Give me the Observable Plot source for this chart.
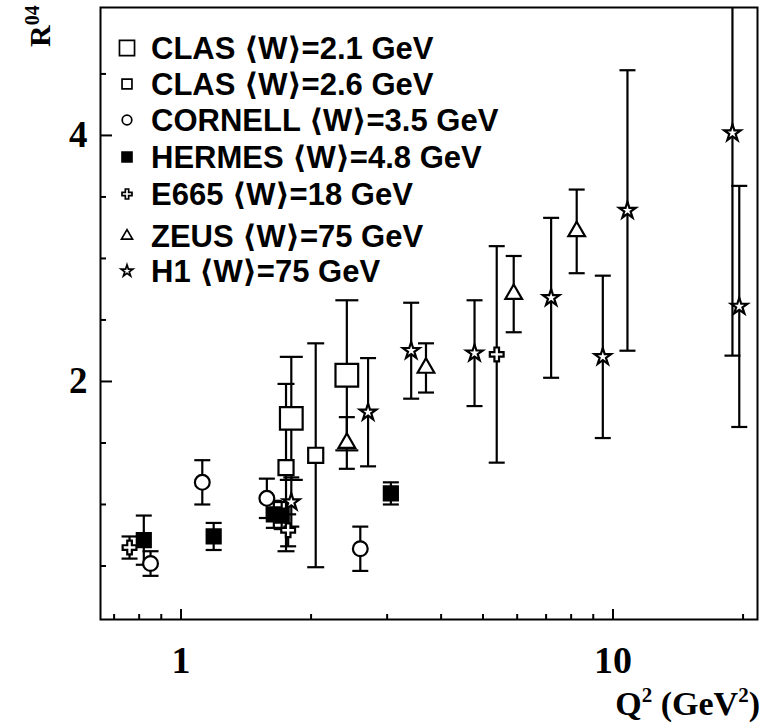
<!DOCTYPE html>
<html>
<head>
<meta charset="utf-8">
<script src="https://cdn.jsdelivr.net/npm/d3@7"></script>
<script src="https://cdn.jsdelivr.net/npm/@observablehq/plot@0.6"></script>
<style>
  html, body { margin: 0; padding: 0; background: #fff; }
  #chart svg { display: block; }
</style>
</head>
<body>
<div id="chart"></div>
<script>
// R04 spin-density matrix element versus Q^2 for several experiments.

// CLAS <W>=2.1 GeV
const clas21Q2 = [1.80, 2.42];
const clas21R = [1.70, 2.05];
const clas21Err = [0.50, 0.61];

// CLAS <W>=2.6 GeV
const clas26Q2 = [1.75, 2.05];
const clas26R = [1.30, 1.40];
const clas26Err = [0.68, 0.91];

// CORNELL <W>=3.5 GeV
const cornellQ2 = [0.85, 1.12, 1.58, 2.60];
const cornellR = [0.52, 1.18, 1.05, 0.64];
const cornellErr = [0.10, 0.18, 0.16, 0.18];

// HERMES <W>=4.8 GeV
const hermesQ2 = [0.82, 1.19, 1.64, 1.71, 3.06];
const hermesR = [0.71, 0.74, 0.92, 0.91, 1.09];
const hermesErr = [0.20, 0.11, 0.11, 0.11, 0.09];

// E665 <W>=18 GeV
const e665Q2 = [0.76, 1.77, 5.38];
const e665R = [0.65, 0.79, 2.22];
const e665Err = [0.09, 0.13, 0.88];

// ZEUS <W>=75 GeV
const zeusQ2 = [2.42, 3.69, 5.89, 8.24];
const zeusR = [1.50, 2.11, 2.71, 3.22];
const zeusErr = [0.21, 0.20, 0.31, 0.34];

// H1 <W>=75 GeV
const h1Q2 = [1.80, 2.71, 3.41, 4.78, 7.19, 9.47, 10.8, 18.9, 19.6];
const h1R = [1.02, 1.75, 2.25, 2.23, 2.68, 2.20, 3.39, 4.02, 2.61];
const h1Err = [0.20, 0.44, 0.39, 0.43, 0.65, 0.66, 1.14, 1.81, 0.98];

// Legend labels
const legendLabels = [
  "CLAS \u27E8W\u27E9=2.1 GeV",
  "CLAS \u27E8W\u27E9=2.6 GeV",
  "CORNELL \u27E8W\u27E9=3.5 GeV",
  "HERMES \u27E8W\u27E9=4.8 GeV",
  "E665 \u27E8W\u27E9=18 GeV",
  "ZEUS \u27E8W\u27E9=75 GeV",
  "H1 \u27E8W\u27E9=75 GeV"
];

// Axis ticks
const xMajorTicks = [1, 10];
const xMinorTicks = [0.7, 0.8, 0.9, 2, 3, 4, 5, 6, 7, 8, 9, 20];
const yMajorTicks = [2, 4];
const yMinorTicks = [0.5, 1, 1.5, 2.5, 3, 3.5, 4.5];

// Layout
const W = 767, H = 727;
const mL = 100, mR = 10, mT = 7, mB = 108;
const frameW = W - mL - mR, frameH = H - mT - mB;

// Horizontal bar used as an error-bar cap
const capSymbol = (w) => ({ draw(ctx) { ctx.moveTo(-w / 2, 0); ctx.lineTo(w / 2, 0); } });

const series = [
  { label: legendLabels[0], q2: clas21Q2, r: clas21R, err: clas21Err, symbol: "square", fill: "white", size: 12.8, cap: 23, lr: 8.5 },
  { label: legendLabels[1], q2: clas26Q2, r: clas26R, err: clas26Err, symbol: "square", fill: "white", size: 8.5, cap: 17, lr: 5.6 },
  { label: legendLabels[2], q2: cornellQ2, r: cornellR, err: cornellErr, symbol: "circle", fill: "white", size: 7.4, cap: 16, lr: 4.8 },
  { label: legendLabels[3], q2: hermesQ2, r: hermesR, err: hermesErr, symbol: "square", fill: "black", size: 7.9, cap: 16, lr: 5.6 },
  { label: legendLabels[4], q2: e665Q2, r: e665R, err: e665Err, symbol: "cross", fill: "white", size: 5.8, cap: 16, lr: 4.2 },
  { label: legendLabels[5], q2: zeusQ2, r: zeusR, err: zeusErr, symbol: "triangle", fill: "white", size: 6.2, cap: 16, lr: 4.1 },
  { label: legendLabels[6], q2: h1Q2, r: h1R, err: h1Err, symbol: "star", fill: "white", size: 5.2, cap: 16, lr: 3.7 }
];

const rows = series.map(s => s.q2.map((q, i) => ({ q2: q, r: s.r[i], err: s.err[i] })));

const errorMarks = series.flatMap((s, k) => [
  Plot.ruleX(rows[k], { x: "q2", y1: d => d.r - d.err, y2: d => d.r + d.err, stroke: "black", strokeWidth: 2.2, clip: true }),
  Plot.dot(rows[k], { x: "q2", y: d => d.r + d.err, symbol: capSymbol(s.cap), stroke: "black", strokeWidth: 2.2, fill: "none", clip: true }),
  Plot.dot(rows[k], { x: "q2", y: d => d.r - d.err, symbol: capSymbol(s.cap), stroke: "black", strokeWidth: 2.2, fill: "none", clip: true })
]);

const pointMarks = series.map((s, k) =>
  Plot.dot(rows[k], { x: "q2", y: "r", symbol: s.symbol, r: s.size, fill: s.fill, stroke: "black", strokeWidth: 2.2 })
);

const chart = Plot.plot({
  width: W, height: H,
  marginLeft: mL, marginRight: mR, marginTop: mT, marginBottom: mB,
  x: { type: "log", domain: [0.651, 21.6] },
  y: { domain: [0.065, 5.04] },
  style: { background: "white", color: "black", fontFamily: "'Liberation Serif', serif", overflow: "visible" },
  marks: [
    ...errorMarks,
    ...pointMarks,
    Plot.tickY(yMinorTicks, { y: d => d, insetRight: frameW - 6, stroke: "black", strokeWidth: 2 }),
    Plot.tickY(yMajorTicks, { y: d => d, insetRight: frameW - 12, stroke: "black", strokeWidth: 2 }),
    Plot.tickX(xMinorTicks, { x: d => d, insetTop: frameH - 5, stroke: "black", strokeWidth: 2 }),
    Plot.tickX(xMajorTicks, { x: d => d, insetTop: frameH - 10, stroke: "black", strokeWidth: 2 }),
    Plot.axisY({ ticks: yMajorTicks, tickSize: 0, tickPadding: 13, fontSize: 37, fontWeight: "bold", label: null, tickFormat: d => String(d) }),
    Plot.axisX({ ticks: xMajorTicks, tickSize: 0, tickPadding: 27, fontSize: 38, fontWeight: "bold", label: null, tickFormat: d => String(d) }),
    Plot.frame({ stroke: "black", strokeWidth: 2 })
  ]
});

document.getElementById("chart").appendChild(chart);

// Legend and axis titles
const svg = d3.select(chart);
const symbolTypes = { square: d3.symbolSquare, circle: d3.symbolCircle, cross: d3.symbolCross, triangle: d3.symbolTriangle, star: d3.symbolStar };
const legendRowY = [48, 84, 120, 157, 194, 236, 271];
const legend = svg.append("g").attr("text-anchor", "start");
series.forEach((s, i) => {
  const y = legendRowY[i];
  legend.append("path")
    .attr("transform", `translate(127,${y})`)
    .attr("d", d3.symbol(symbolTypes[s.symbol], Math.PI * s.lr * s.lr)())
    .attr("fill", s.fill).attr("stroke", "black").attr("stroke-width", 1.7);
  legend.append("text")
    .attr("x", 151).attr("y", y + 11)
    .attr("text-anchor", "start")
    .attr("font-family", "'Liberation Sans', Arial, 'DejaVu Sans', sans-serif")
    .attr("font-weight", "bold").attr("font-size", 31)
    .attr("fill", "black")
    .text(s.label);
});

const yTitle = svg.append("text")
  .attr("transform", "translate(50,47) rotate(-90)")
  .attr("text-anchor", "start")
  .attr("font-family", "'Liberation Serif', serif").attr("font-weight", "bold")
  .attr("font-size", 30).attr("fill", "black");
yTitle.append("tspan").text("R");
yTitle.append("tspan").attr("font-size", 20).attr("dy", -11).text("04");

const xTitle = svg.append("text")
  .attr("x", 760).attr("y", 715).attr("text-anchor", "end")
  .attr("font-family", "'Liberation Serif', serif").attr("font-weight", "bold")
  .attr("font-size", 34).attr("fill", "black");
xTitle.append("tspan").text("Q");
xTitle.append("tspan").attr("font-size", 21).attr("dy", -13).text("2");
xTitle.append("tspan").attr("dy", 13).text(" (GeV");
xTitle.append("tspan").attr("font-size", 21).attr("dy", -13).text("2");
xTitle.append("tspan").attr("dy", 13).text(")");
</script>
</body>
</html>
